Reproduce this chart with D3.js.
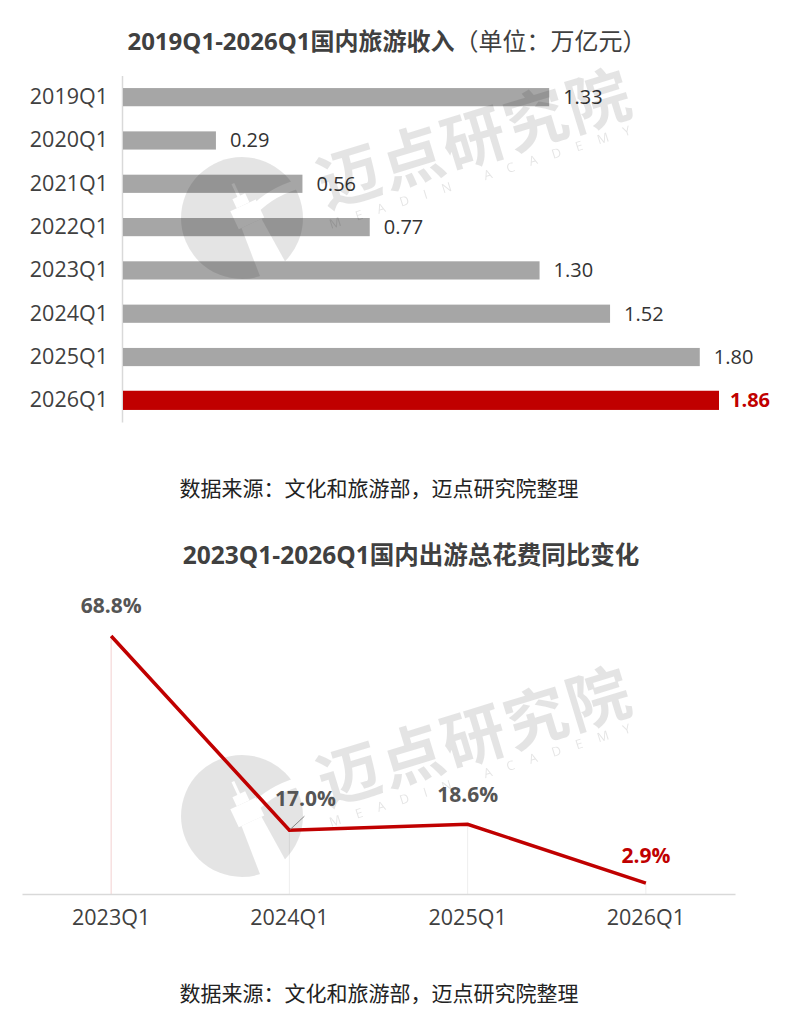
<!DOCTYPE html>
<html>
<head>
<meta charset="utf-8">
<script src="https://cdn.jsdelivr.net/npm/d3@7/dist/d3.min.js"></script>
<style>
  body { margin: 0; background: #fff; }
  svg { display: block; font-family: "Open Sans", "Noto Sans CJK SC", sans-serif; }
</style>
</head>
<body>
<svg id="chart" width="800" height="1027"></svg>
<script>
// bar chart data: domestic tourism revenue (trillion yuan)
let barQuarters = ["2019Q1", "2020Q1", "2021Q1", "2022Q1", "2023Q1", "2024Q1", "2025Q1", "2026Q1"];
let barValues = [1.33, 0.29, 0.56, 0.77, 1.30, 1.52, 1.80, 1.86];
let barLabels = ["1.33", "0.29", "0.56", "0.77", "1.30", "1.52", "1.80", "1.86"];

// line chart data: YoY change of total spending (%)
let lineQuarters = ["2023Q1", "2024Q1", "2025Q1", "2026Q1"];
let lineValues = [68.8, 17.0, 18.6, 2.9];
let lineLabels = ["68.8%", "17.0%", "18.6%", "2.9%"];

let svg = d3.select("#chart");
let red = "#c00000";
let grey = "#a6a6a6";
let textColor = "#404040";

/* mask for the watermark logo: circle with the tower cut out */
let mask = svg.append("defs").append("mask")
    .attr("id", "logoMask")
    .attr("maskUnits", "userSpaceOnUse")
    .attr("x", 0).attr("y", 0).attr("width", 800).attr("height", 1027);
mask.append("rect").attr("width", 800).attr("height", 1027).attr("fill", "#fff");
let tower = mask.append("g")
    .attr("transform", "translate(276,276) rotate(-25)")
    .attr("fill", "#000");
tower.append("rect").attr("x", -1.5).attr("y", -102).attr("width", 3).attr("height", 16);
tower.append("rect").attr("x", -7).attr("y", -88).attr("width", 14).attr("height", 10);
tower.append("rect").attr("x", -14).attr("y", -78).attr("width", 28).attr("height", 20);
tower.append("path").attr("d", "M-11,-58 L11,-58 L15,0 L-15,0 Z");
mask.append("path")
    .attr("d", "M252,212 Q272,190 306,182")
    .attr("fill", "none").attr("stroke", "#000").attr("stroke-width", 9);

/* ---------- bar chart ---------- */
let barTitle = svg.append("text")
    .attr("x", 387).attr("y", 50)
    .attr("text-anchor", "middle")
    .attr("fill", textColor)
    .style("font-size", "24px");
barTitle.append("tspan").attr("font-weight", "bold").text("2019Q1-2026Q1国内旅游收入");
barTitle.append("tspan").text("（单位：万亿元）");

let barX = d3.scaleLinear()
    .domain([0, 1.86])
    .range([123, 719]);

let barY = d3.scaleBand()
    .domain(barQuarters)
    .range([75.5, 422])
    .paddingInner(0.58)
    .paddingOuter(0.29);

let barYAxis = d3.axisLeft(barY).tickSize(0).tickPadding(14);
let barAxisG = svg.append("g")
    .attr("transform", "translate(122,0)")
    .call(barYAxis);
barAxisG.select("path.domain").attr("stroke", "#d9d9d9").attr("stroke-width", 1.5);
barAxisG.selectAll(".tick text")
    .attr("fill", textColor)
    .style("font-size", "21.5px")
    .style("font-family", "'Open Sans', sans-serif");

svg.append("g").selectAll("rect")
    .data(barValues)
    .join("rect")
    .attr("x", 123)
    .attr("y", (d, i) => barY(barQuarters[i]) - (i == 7 ? 0.5 : 0))
    .attr("width", d => barX(d) - 123)
    .attr("height", (d, i) => barY.bandwidth() + (i == 7 ? 1 : 0))
    .attr("fill", (d, i) => i == 7 ? red : grey);

svg.append("g").selectAll("text")
    .data(barValues)
    .join("text")
    .attr("x", (d, i) => barX(d) + (i == 7 ? 11 : 14))
    .attr("y", (d, i) => barY(barQuarters[i]) + barY.bandwidth() / 2)
    .attr("dy", "0.35em")
    .attr("fill", (d, i) => i == 7 ? red : "#333")
    .attr("font-weight", (d, i) => i == 7 ? "bold" : "normal")
    .style("font-size", "20px")
    .text((d, i) => barLabels[i]);

svg.append("text")
    .attr("x", 379).attr("y", 496)
    .attr("text-anchor", "middle")
    .attr("fill", "#222")
    .style("font-size", "21px")
    .text("数据来源：文化和旅游部，迈点研究院整理");

/* ---------- line chart ---------- */
svg.append("text")
    .attr("x", 411).attr("y", 564)
    .attr("text-anchor", "middle")
    .attr("fill", textColor)
    .attr("font-weight", "bold")
    .style("font-size", "24.5px")
    .text("2023Q1-2026Q1国内出游总花费同比变化");

let lineX = d3.scaleBand()
    .domain(lineQuarters)
    .range([22, 735]);
let cx = q => lineX(q) + lineX.bandwidth() / 2;

let lineY = d3.scaleLinear()
    .domain([0, 68.8])
    .range([894, 636]);

// drop lines
svg.append("g").selectAll("line")
    .data(lineValues)
    .join("line")
    .attr("x1", (d, i) => cx(lineQuarters[i]))
    .attr("x2", (d, i) => cx(lineQuarters[i]))
    .attr("y1", d => lineY(d))
    .attr("y2", lineY(0))
    .attr("stroke", (d, i) => i == 0 ? "#f3d0d0" : "#eeeeee")
    .attr("stroke-width", 1);

let lineXAxis = d3.axisBottom(lineX).tickSize(0).tickPadding(16);
let lineAxisG = svg.append("g")
    .attr("transform", "translate(0," + lineY(0) + ")")
    .call(lineXAxis);
lineAxisG.select("path.domain").attr("stroke", "#d9d9d9").attr("stroke-width", 1.5);
lineAxisG.selectAll(".tick text")
    .attr("fill", textColor)
    .style("font-size", "21.5px")
    .style("font-family", "'Open Sans', sans-serif");

/* ---------- watermarks ---------- */
function watermark(dy) {
    let g = svg.append("g")
        .attr("transform", "translate(0," + dy + ")")
        .attr("fill", "#000")
        .attr("opacity", 0.1);
    g.append("circle").attr("cx", 242).attr("cy", 218).attr("r", 61)
        .attr("mask", "url(#logoMask)");
    g.append("text")
        .attr("transform", "translate(326,208) rotate(-17)")
        .style("font-size", "63px")
        .style("font-family", "'Noto Sans CJK SC'")
        .attr("font-weight", "bold")
        .attr("letter-spacing", 2)
        .text("迈点研究院");
    g.append("text")
        .attr("transform", "translate(331,229) rotate(-17.5)")
        .style("font-size", "13px")
        .attr("letter-spacing", 15.5)
        .text("MEADIN ACADEMY");
}
watermark(0);
watermark(598);

svg.append("path")
    .datum(lineValues)
    .attr("fill", "none")
    .attr("stroke", red)
    .attr("stroke-width", 3.5)
    .attr("d", d3.line()
        .x((d, i) => cx(lineQuarters[i]))
        .y(d => lineY(d)));

// leader line for 17.0%
svg.append("line")
    .attr("x1", cx(lineQuarters[1]) + 1).attr("y1", lineY(lineValues[1]) - 1)
    .attr("x2", cx(lineQuarters[1]) + 15).attr("y2", lineY(lineValues[1]) - 14)
    .attr("stroke", "#888").attr("stroke-width", 1);

let lineLabelPos = [[0, -23], [16, -24], [0, -22], [0, -20]];
svg.append("g").selectAll("text")
    .data(lineValues)
    .join("text")
    .attr("x", (d, i) => cx(lineQuarters[i]) + lineLabelPos[i][0])
    .attr("y", (d, i) => lineY(d) + lineLabelPos[i][1])
    .attr("text-anchor", "middle")
    .attr("fill", (d, i) => i == 3 ? red : "#555")
    .attr("font-weight", "bold")
    .style("font-size", "21px")
    .text((d, i) => lineLabels[i]);

svg.append("text")
    .attr("x", 379).attr("y", 1001)
    .attr("text-anchor", "middle")
    .attr("fill", "#222")
    .style("font-size", "21px")
    .text("数据来源：文化和旅游部，迈点研究院整理");
</script>
</body>
</html>
